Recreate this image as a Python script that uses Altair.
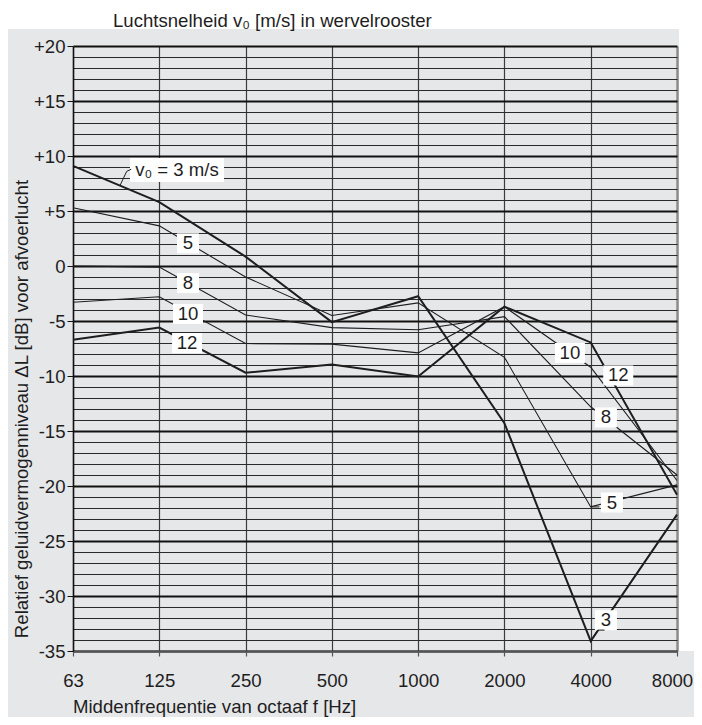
import altair as alt
import pandas as pd

# ---- data ----
freqs = ["63", "125", "250", "500", "1000", "2000", "4000", "8000"]
v3 = [9.1, 5.8, 0.85, -5.1, -2.75, -14.3, -34.1, -22.6]
v5 = [5.3, 3.65, -1.0, -4.5, -3.35, -8.3, -21.9, -19.9]
v8 = [0.0, -0.1, -4.45, -5.6, -5.8, -4.6, -12.8, -19.0]
v10 = [-3.3, -2.8, -7.05, -7.1, -7.9, -3.7, -9.2, -19.5]
v12 = [-6.7, -5.6, -9.7, -8.95, -10.05, -3.7, -6.95, -20.8]

series_names = ["3", "5", "8", "10", "12"]
series_vals = [v3, v5, v8, v10, v12]
thick_series = ["3", "12"]

# inline curve labels: text, position (octave index), level (dB)
label_text = ["v₀ = 3 m/s", "5", "8", "10", "12", "10", "12", "8", "5", "3"]
label_pos = [1.205, 1.333, 1.333, 1.333, 1.322, 5.759, 6.319, 6.176, 6.246, 6.176]
label_lvl = [8.73, 2.06, -1.55, -4.36, -7.0, -7.91, -9.95, -13.77, -21.5, -32.2]

# small leader hooks joining labels to curves
leader_id = ["a", "a", "a", "b", "b", "b", "c", "c"]
leader_pos = [0.545, 0.622, 0.675, 6.0, 6.08, 6.16, 6.0, 6.10]
leader_lvl = [7.32, 8.6, 8.8, -34.1, -33.1, -33.1, -21.9, -21.9]

title_top = "Luchtsnelheid v₀ [m/s] in wervelrooster"
title_x = "Middenfrequentie van octaaf f [Hz]"
title_y = "Relatief geluidvermogenniveau ΔL [dB] voor afvoerlucht"

# ---- tables ----
rows = []
for name, vals in zip(series_names, series_vals):
    for i, v in enumerate(vals):
        rows.append({"s": name, "i": i, "v": v,
                     "thick": name in thick_series})
lines_df = pd.DataFrame(rows)
labels_df = pd.DataFrame({"t": label_text, "i": label_pos, "v": label_lvl})
labels_df["w"] = labels_df["t"].str.len()
leaders_df = pd.DataFrame({"g": leader_id, "i": leader_pos, "v": leader_lvl})

W, H = 604, 605
PAD_L, PAD_T, PAD_R, PAD_B = 65, 38, 17, 66
FONT = "Liberation Sans"
FS = 18.6
INK = "#1e1e1e"

label_expr = "[" + ",".join(f"'{f}'" for f in freqs) + "][datum.value]"
y_values = list(range(-35, 21))

x_enc = alt.X(
    "i:Q",
    scale=alt.Scale(domain=[0, 7], nice=False, zero=False),
    axis=alt.Axis(
        values=list(range(len(freqs))),
        tickCount=len(freqs) + 2,
        labelExpr=label_expr,
        title=None,
        grid=True,
        gridColor={"condition": {"test": "datum.value === 7", "value": "#8c8c8c"}, "value": "#3c3c3c"},
        gridWidth={"condition": {"test": "datum.value === 7", "value": 2.5}, "value": 1.2},
        domainColor="#555555",
        domainWidth=2,
        tickColor="#555555",
        tickSize=5,
        tickWidth=1.2,
        labelPadding=15,
        labelOffset={"condition": {"test": "datum.value === 7", "value": -5}, "value": 0},
        labelFontSize=FS,
        labelColor=INK,
        labelFlush=False,
        labelOverlap=False,
    ),
)

y_enc = alt.Y(
    "v:Q",
    scale=alt.Scale(domain=[-35, 20], nice=False, zero=False),
    axis=alt.Axis(
        values=y_values,
        tickCount=len(y_values) + 10,
        labelExpr="datum.value % 5 === 0 ? (datum.value > 0 ? '+' + datum.value : '' + datum.value) : ''",
        title=None,
        grid=True,
        gridColor={"condition": {"test": "datum.value % 5 === 0", "value": "#111111"}, "value": "#2a2a2a"},
        gridWidth={"condition": {"test": "datum.value % 5 === 0", "value": 1.8}, "value": 1.0},
        tickOpacity={"condition": {"test": "datum.value % 5 !== 0", "value": 0}, "value": 1},
        domainColor="#111111",
        domainWidth=1.5,
        tickColor="#111111",
        tickSize=6,
        labelPadding=2,
        labelFontSize=FS,
        labelColor=INK,
        labelOverlap=False,
        labelBound=False,
        labelFlush=False,
    ),
)

one = pd.DataFrame({"k": [0]})

# white bands above and right of the plot (the grey L-shape is the background)
top_band = alt.Chart(one).mark_rect(color="white").encode(
    x=alt.value(-PAD_L), x2=alt.value(W + PAD_R), y=alt.value(-PAD_T), y2=alt.value(-17)
)
right_band = alt.Chart(one).mark_rect(color="white").encode(
    x=alt.value(W + 2), x2=alt.value(W + PAD_R), y=alt.value(-17), y2=alt.value(H)
)

base = alt.Chart(lines_df).encode(x=x_enc, y=y_enc, detail="s:N")
thick_lines = base.transform_filter("datum.thick").mark_line(color=INK, strokeWidth=2.0)
thin_lines = base.transform_filter("!datum.thick").mark_line(color=INK, strokeWidth=1.1)

lab = alt.Chart(labels_df).encode(x=alt.X("i:Q"), y=alt.Y("v:Q"))
box1 = lab.transform_filter("datum.w == 1").mark_rect(color="white", width=22, height=20)
box2 = lab.transform_filter("datum.w == 2").mark_rect(color="white", width=30, height=20)
box3 = lab.transform_filter("datum.w > 2").mark_rect(color="white", width=94, height=24)
texts = lab.mark_text(fontSize=FS, font=FONT, color=INK, align="center", baseline="middle").encode(
    text="t:N"
)

leaders = alt.Chart(leaders_df).mark_line(color=INK, strokeWidth=1).encode(
    x="i:Q", y="v:Q", detail="g:N"
)

t_top = alt.Chart(one).mark_text(
    text=title_top, fontSize=FS, font=FONT, color=INK, align="left", baseline="alphabetic"
).encode(x=alt.value(40), y=alt.value(-19))
t_x = alt.Chart(one).mark_text(
    text=title_x, fontSize=FS, font=FONT, color=INK, align="left", baseline="alphabetic"
).encode(x=alt.value(0), y=alt.value(667))
t_y = alt.Chart(one).mark_text(
    text=title_y, fontSize=FS, font=FONT, color=INK, align="center", baseline="alphabetic", angle=270
).encode(x=alt.value(-45), y=alt.value(363))

chart = alt.layer(
    top_band, right_band, thin_lines, thick_lines, box1, box2, box3, texts, leaders, t_top, t_x, t_y
).properties(
    width=W,
    height=H,
    autosize=alt.AutoSizeParams(type="none"),
    padding={"left": PAD_L, "top": PAD_T, "right": PAD_R, "bottom": PAD_B},
    background="#e6e7e9",
).configure_view(
    stroke=None, fill="white"
).configure(
    font=FONT
)

chart.save("out.html", embed_options={"renderer": "svg", "actions": False})
